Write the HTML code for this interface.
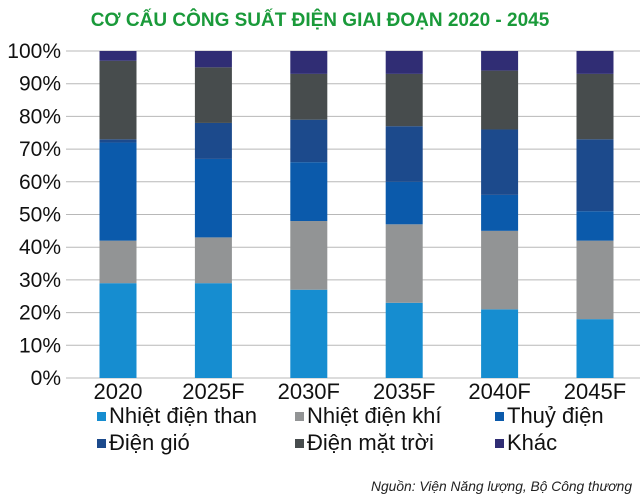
<!DOCTYPE html>
<html><head><meta charset="utf-8"><style>
body{margin:0;background:#fff;width:640px;height:497px;overflow:hidden;font-family:"Liberation Sans","DejaVu Sans",sans-serif}
svg{display:block}
</style></head><body>
<svg id="c" width="640" height="497">
<text x="320" y="26" text-anchor="middle" font-size="19" font-weight="bold" fill="#1a9a3a">CƠ CẤU CÔNG SUẤT ĐIỆN GIAI ĐOẠN 2020 - 2045</text>
<g id="grid"></g><g id="bars"></g><g id="legend"></g>
<text x="632" y="491" text-anchor="end" font-size="13.8" font-style="italic" fill="#222">Nguồn: Viện Năng lượng, Bộ Công thương</text>
</svg>
<script>
const categories=["2020","2025F","2030F","2035F","2040F","2045F"];
const seriesNames=["Nhiệt điện than","Nhiệt điện khí","Thuỷ điện","Điện gió","Điện mặt trời","Khác"];
const coal=[29,29,27,23,21,18];
const gas=[13,14,21,24,24,24];
const hydro=[30,24,18,13,11,9];
const wind=[1,11,13,17,20,22];
const solar=[24,17,14,16,18,20];
const other=[3,5,7,7,6,7];
const yTicks=[0,10,20,30,40,50,60,70,80,90,100];
const colors=["#168dd0","#929495","#0b5aab","#1c4a8c","#474c4d","#302d74"];
const series=[coal,gas,hydro,wind,solar,other];
const NS="http://www.w3.org/2000/svg";
const y0=378,y1=51,xL=66,xR=640,x0=118,step=95.4,bw=37;
const ys=v=>y0-(y0-y1)*v/100;
const xs=i=>x0+i*step;
function mk(t,a,p){const e=document.createElementNS(NS,t);for(const k in a)e.setAttribute(k,a[k]);p.appendChild(e);return e;}
const grid=document.getElementById('grid');
yTicks.forEach(v=>{
  const l=mk('line',{x1:xL,x2:xR,y1:ys(v),y2:ys(v),stroke:'#b8b8b8','stroke-width':1},grid);
  
  
  const t=mk('text',{x:61,y:ys(v)+7,'text-anchor':'end','font-size':21,fill:'#111'},grid);
  t.textContent=v+'%';
  
  
});
const bars=document.getElementById('bars');
categories.forEach((c,i)=>{
  let cum=0;
  series.forEach((s,k)=>{
    const r=mk('rect',{x:xs(i)-bw/2,y:ys(cum+s[i]),width:bw,height:ys(cum)-ys(cum+s[i]),fill:colors[k]},bars);
    
    
    cum+=s[i];
  });
  const t=mk('text',{x:xs(i),y:399,'text-anchor':'middle','font-size':22,fill:'#111'},bars);
  t.textContent=c;
  
  
});
const leg=document.getElementById('legend');
const lx=[97,295,495],ly=[423,450];
seriesNames.forEach((n,k)=>{
  const x=lx[k%3],y=ly[Math.floor(k/3)];
  const g=mk('g',{},leg);
  
  
  mk('rect',{x:x,y:y-11,width:9,height:9,fill:colors[k]},g);
  const t=mk('text',{x:x+12,y:y,'font-size':22,fill:'#111'},g);
  t.textContent=n;
});
</script>
</body></html>
